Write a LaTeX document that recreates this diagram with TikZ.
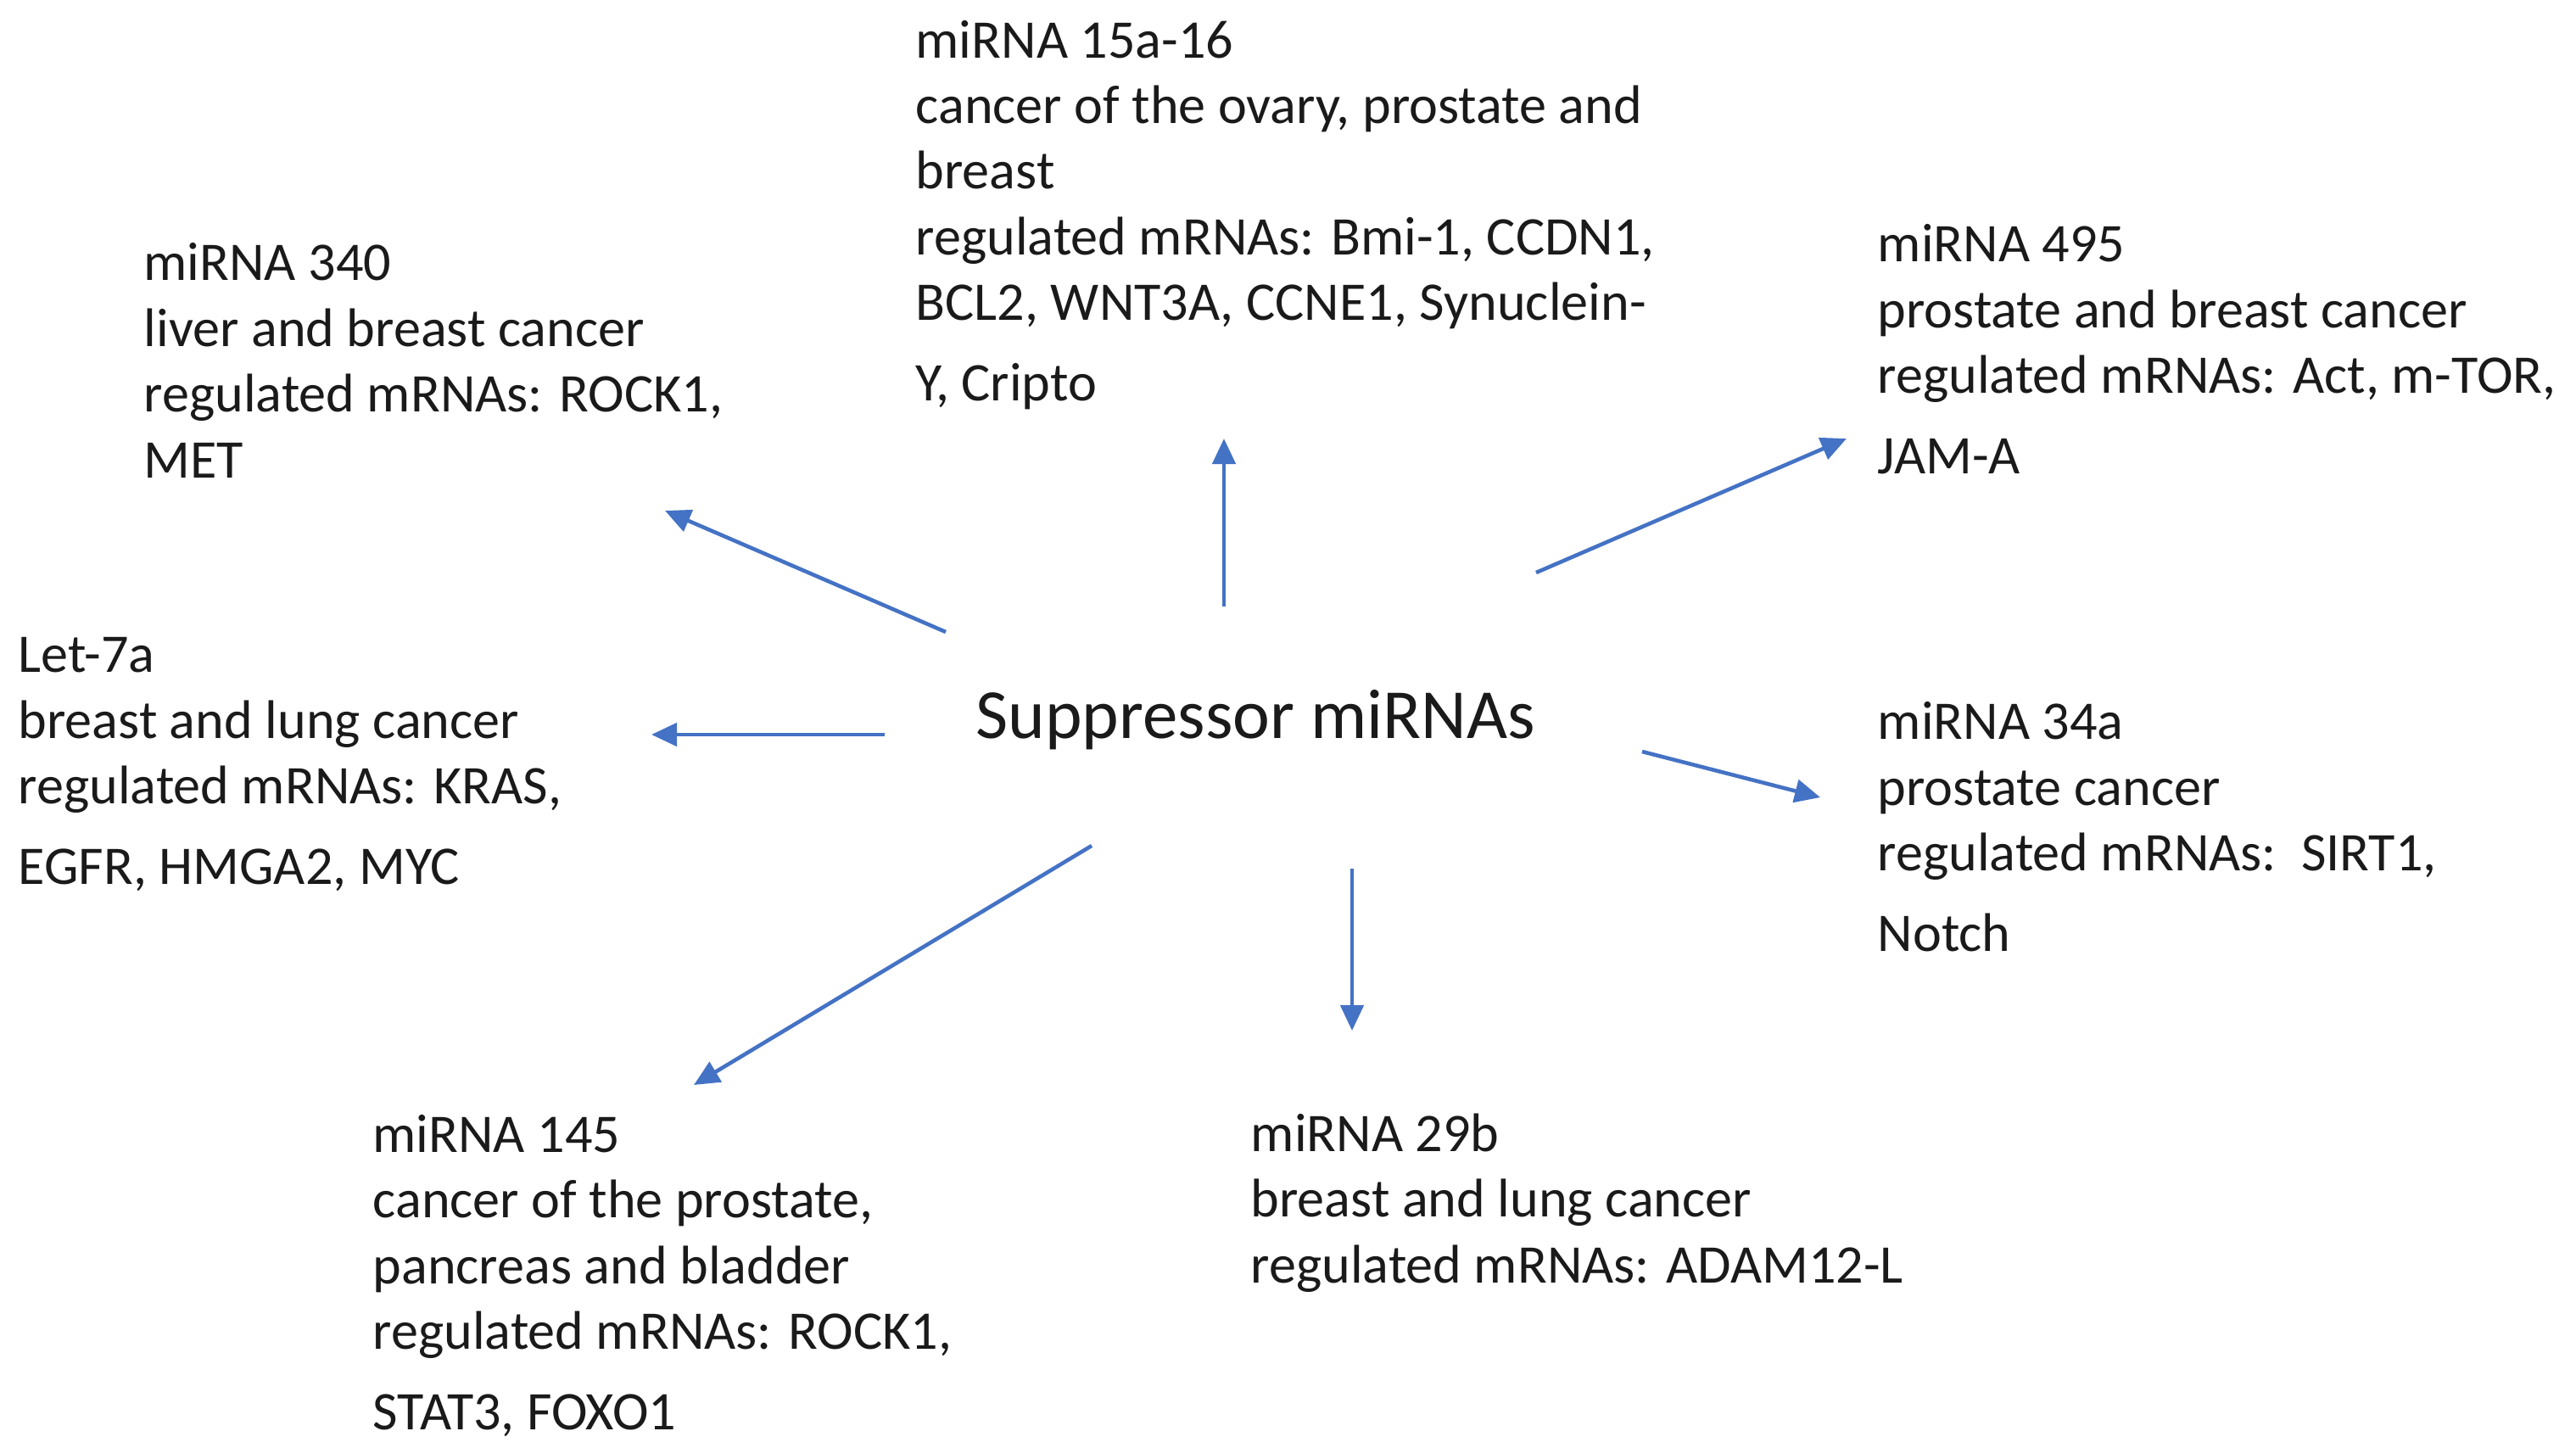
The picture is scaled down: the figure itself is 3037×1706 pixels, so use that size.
\documentclass[tikz,border=0pt]{standalone}
\usepackage{fontspec}
\setmainfont{Carlito}
\usetikzlibrary{arrows.meta}
\definecolor{arrowblue}{HTML}{4472C4}
\definecolor{textblack}{HTML}{1A1A1A}
\begin{document}
\begin{tikzpicture}[x=0.01cm,y=-0.01cm,
  info/.style={anchor=base west,inner sep=0pt,align=left,text=textblack,
    font=\fontsize{18.25pt}{22pt}\selectfont},
  hub/.style={anchor=base west,inner sep=0pt,text=textblack,
    font=\fontsize{23.6pt}{28pt}\selectfont},
  link/.style={draw=arrowblue,line width=1.3pt,
    -{Triangle[length=0.3cm,width=0.27cm]}}]
\useasboundingbox (0,0) rectangle (3037,1706);
% central node
\node[hub] (hub) at (1150,870) {Suppressor miRNAs};
% target blocks (anchored at the baseline of their last line)
\node[info] (m15) at (1079,472) {miRNA 15a-16\\cancer of the ovary, prostate and\\breast\\regulated mRNAs: Bmi-1, CCDN1,\\BCL2, WNT3A, CCNE1, Synuclein-\\[0.17cm]Y, Cripto};
\node[info] (m340) at (169,563) {miRNA 340\\liver and breast cancer\\regulated mRNAs: ROCK1,\\MET};
\node[info] (let7) at (21,1042) {Let-7a\\breast and lung cancer\\regulated mRNAs: KRAS,\\[0.17cm]EGFR, HMGA2, MYC};
\node[info] (m495) at (2213,558) {miRNA 495\\prostate and breast cancer\\regulated mRNAs: Act, m-TOR,\\[0.17cm]JAM-A};
\node[info] (m34) at (2213,1121) {miRNA 34a\\prostate cancer\\regulated mRNAs:\ \ SIRT1,\\[0.17cm]Notch};
\node[info] (m145) at (439,1685) {miRNA 145\\cancer of the prostate,\\pancreas and bladder\\regulated mRNAs: ROCK1,\\[0.17cm]STAT3, FOXO1};
\node[info] (m29) at (1474,1512) {miRNA 29b\\breast and lung cancer\\regulated mRNAs: ADAM12-L};
% arrow end points
\coordinate (sUp) at (1443,715);  \coordinate (eUp) at (1443,517);
\coordinate (sNE) at (1811,675);  \coordinate (eNE) at (2177,517);
\coordinate (sUL) at (1115,745);  \coordinate (eUL) at (784,602);
\coordinate (sL)  at (1043,866);  \coordinate (eL)  at (768,866);
\coordinate (sR)  at (1936,886);  \coordinate (eR)  at (2146,940);
\coordinate (sD)  at (1594,1024); \coordinate (eD)  at (1594,1215);
\coordinate (sLL) at (1287,997);  \coordinate (eLL) at (818,1279);
\draw[link] (sUp) -- (eUp);
\draw[link] (sNE) -- (eNE);
\draw[link] (sUL) -- (eUL);
\draw[link] (sL) -- (eL);
\draw[link] (sR) -- (eR);
\draw[link] (sD) -- (eD);
\draw[link] (sLL) -- (eLL);
\end{tikzpicture}
\end{document}
